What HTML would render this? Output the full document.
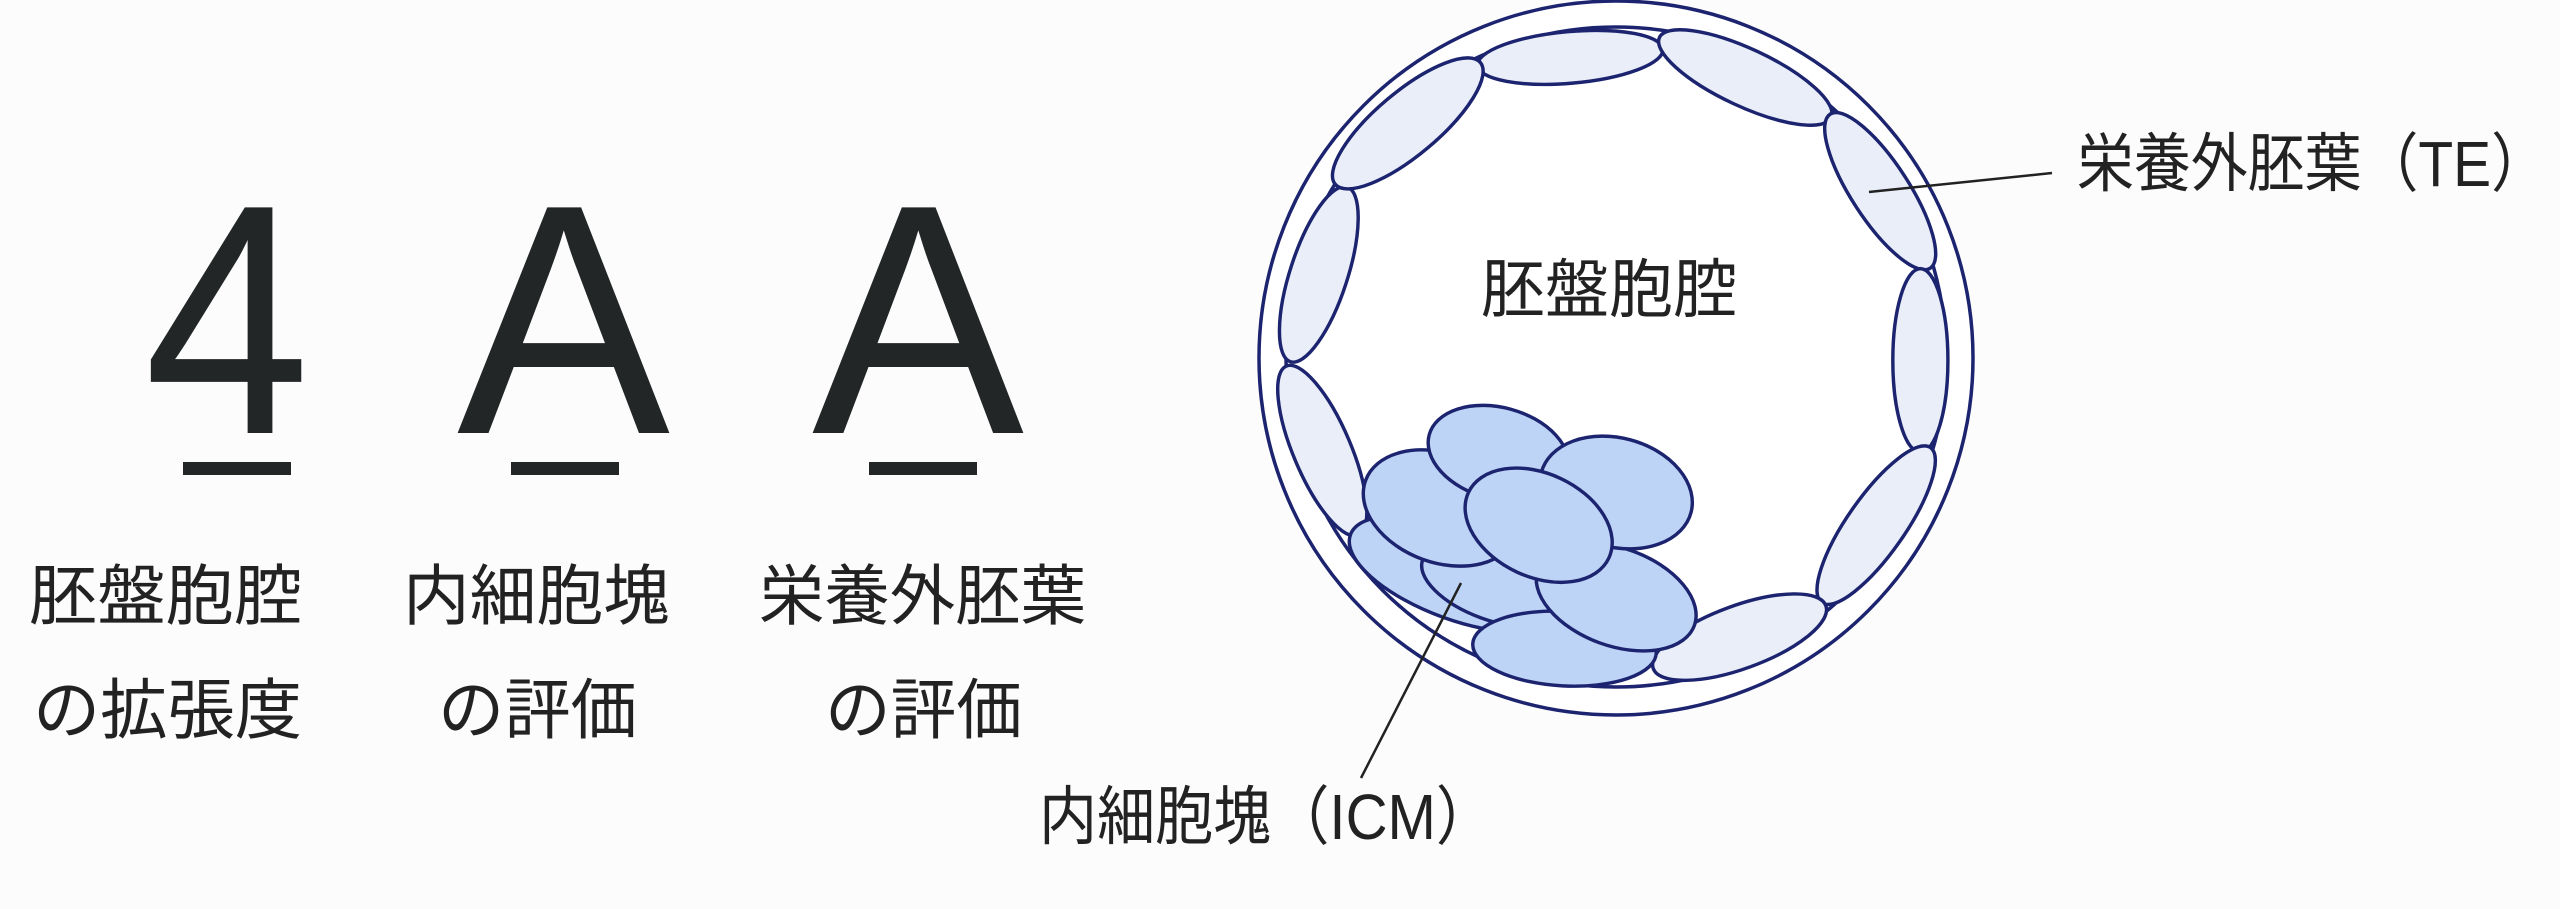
<!DOCTYPE html>
<html><head><meta charset="utf-8"><style>
html,body{margin:0;padding:0;background:#fcfcfc;}
svg{display:block}
.jp{font-family:"Liberation Sans","Noto Sans CJK JP",sans-serif;fill:#222;}
</style></head><body>
<svg width="2560" height="909" viewBox="0 0 2560 909" xmlns="http://www.w3.org/2000/svg">
<rect width="2560" height="909" fill="#fcfcfc"/>
<!-- big grade letters -->
<g font-family="Liberation Sans, sans-serif" font-size="328" fill="#222626">
<text x="144" y="433" textLength="166" lengthAdjust="spacingAndGlyphs">4</text>
<text x="457" y="433" textLength="213" lengthAdjust="spacingAndGlyphs">A</text>
<text x="812" y="433" textLength="212" lengthAdjust="spacingAndGlyphs">A</text>
</g>
<rect x="183" y="462" width="108" height="13" fill="#222626"/>
<rect x="511" y="462" width="108" height="13" fill="#222626"/>
<rect x="869" y="462" width="108" height="13" fill="#222626"/>
<!-- labels -->
<g class="jp" font-size="66">
<text x="29" y="619" textLength="273" lengthAdjust="spacingAndGlyphs">胚盤胞腔</text>
<text x="403" y="619" textLength="267" lengthAdjust="spacingAndGlyphs">内細胞塊</text>
<text x="759" y="619" textLength="327" lengthAdjust="spacingAndGlyphs">栄養外胚葉</text>
<text x="33" y="733" textLength="269" lengthAdjust="spacingAndGlyphs">の拡張度</text>
<text x="438" y="733" textLength="199" lengthAdjust="spacingAndGlyphs">の評価</text>
<text x="825" y="733" textLength="197" lengthAdjust="spacingAndGlyphs">の評価</text>
</g>
<!-- blastocyst -->
<circle cx="1616" cy="358" r="357" fill="#fff" stroke="#1c2470" stroke-width="3.5"/>
<circle cx="1616" cy="357" r="330" fill="#fff" stroke="#1c2470" stroke-width="3.5"/>
<g transform="translate(1200,0) scale(0.574)" stroke="#1c2470" stroke-width="6">
<g fill="#e9eef8">
<ellipse cx="645" cy="100" rx="162" ry="45" transform="rotate(-5 645 100)"/>
<ellipse cx="950" cy="135" rx="165" ry="50" transform="rotate(25 950 135)"/>
<ellipse cx="1185" cy="333" rx="160" ry="50" transform="rotate(57 1185 333)"/>
<ellipse cx="1255" cy="628" rx="48" ry="160"/>
<ellipse cx="1178" cy="915" rx="165" ry="50" transform="rotate(-55 1178 915)"/>
<ellipse cx="940" cy="1110" rx="160" ry="55" transform="rotate(-20 940 1110)"/>
<ellipse cx="213" cy="785" rx="160" ry="50" transform="rotate(67 213 785)"/>
<ellipse cx="207" cy="478" rx="160" ry="50" transform="rotate(108 207 478)"/>
<ellipse cx="362" cy="215" rx="165" ry="55" transform="rotate(-40 362 215)"/>
</g>
<g fill="#bed4f6">
<ellipse cx="450" cy="1000" rx="200" ry="80" transform="rotate(20 450 1000)"/>
<ellipse cx="510" cy="1020" rx="130" ry="60" transform="rotate(20 510 1020)"/>
<ellipse cx="635" cy="1130" rx="160" ry="65" transform="rotate(3 635 1130)"/>
<ellipse cx="725" cy="1040" rx="145" ry="85" transform="rotate(20 725 1040)"/>
<ellipse cx="420" cy="885" rx="140" ry="95" transform="rotate(20 420 885)"/>
<ellipse cx="520" cy="790" rx="125" ry="80" transform="rotate(15 520 790)"/>
<ellipse cx="725" cy="858" rx="135" ry="95" transform="rotate(15 725 858)"/>
<ellipse cx="590" cy="915" rx="135" ry="90" transform="rotate(25 590 915)"/>
</g>
</g>
<text class="jp" x="1481" y="312" font-size="64" textLength="256" lengthAdjust="spacingAndGlyphs">胚盤胞腔</text>
<!-- leaders -->
<line x1="1869" y1="192" x2="2052" y2="173" stroke="#222" stroke-width="2.5"/>
<line x1="1461" y1="583" x2="1361" y2="778" stroke="#222" stroke-width="2.5"/>
<text class="jp" x="2077" y="186" font-size="64" textLength="471" lengthAdjust="spacingAndGlyphs">栄養外胚葉（TE）</text>
<text class="jp" x="1039" y="839" font-size="64" textLength="455" lengthAdjust="spacingAndGlyphs">内細胞塊（ICM）</text>
</svg>
</body></html>
